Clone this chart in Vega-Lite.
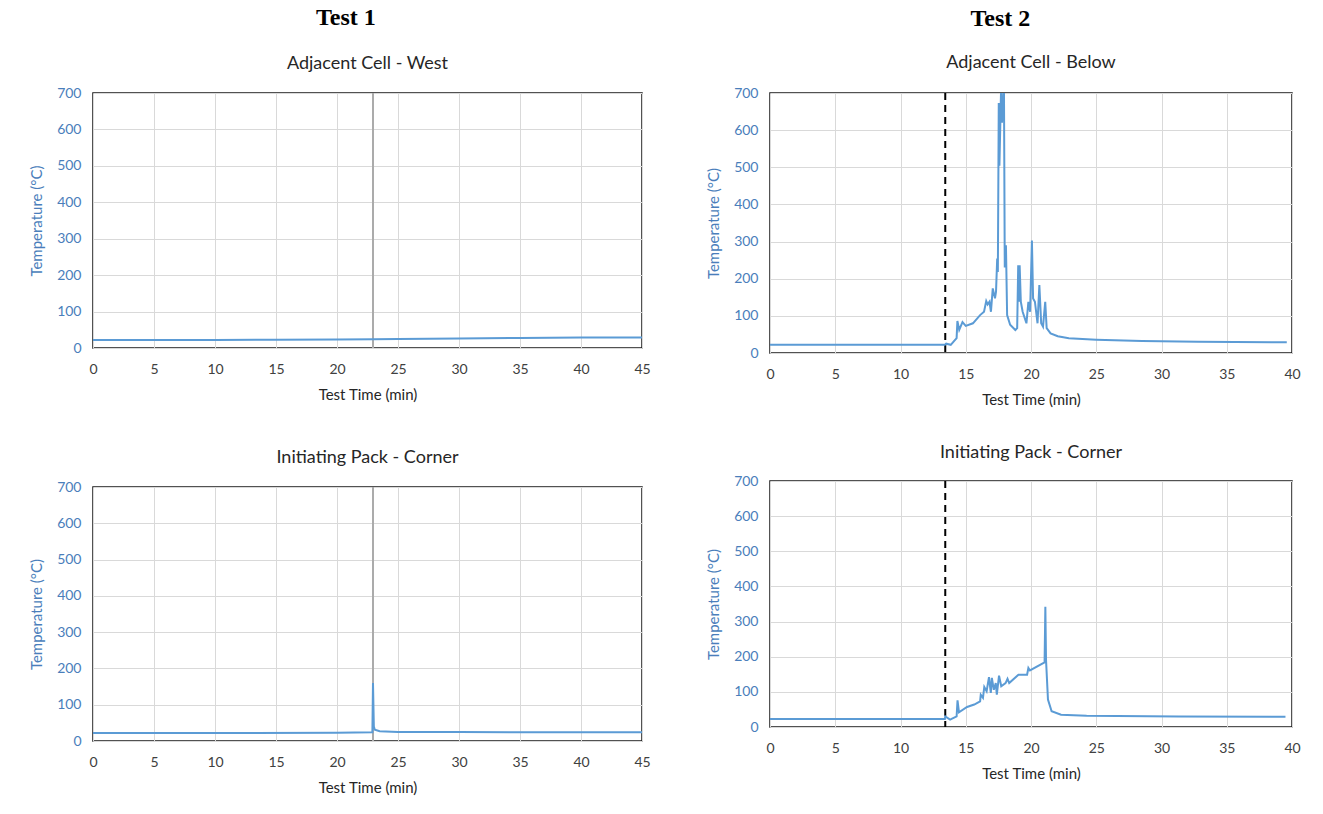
{
  "$schema": "https://vega.github.io/schema/vega-lite/v6.json",
  "background": "white",
  "padding": {"left": 28, "top": 6, "right": 20, "bottom": 10},
  "datasets": {
    "west": [
      {"t": 0, "temp": 22}, {"t": 5, "temp": 22}, {"t": 10, "temp": 22}, {"t": 15, "temp": 22.5},
      {"t": 20, "temp": 23}, {"t": 23, "temp": 24}, {"t": 25, "temp": 24.5}, {"t": 30, "temp": 26},
      {"t": 35, "temp": 27.5}, {"t": 40, "temp": 28.5}, {"t": 45, "temp": 29}
    ],
    "corner1": [
      {"t": 0, "temp": 22}, {"t": 10, "temp": 22}, {"t": 20, "temp": 23}, {"t": 22.9, "temp": 24},
      {"t": 22.95, "temp": 160}, {"t": 23.02, "temp": 40}, {"t": 23.1, "temp": 31}, {"t": 23.5, "temp": 27},
      {"t": 25, "temp": 25}, {"t": 30, "temp": 24.5}, {"t": 35, "temp": 24}, {"t": 40, "temp": 24}, {"t": 45, "temp": 24}
    ],
    "below": [
      {"t": 0, "temp": 22}, {"t": 5, "temp": 22}, {"t": 10, "temp": 22}, {"t": 13.4, "temp": 22},
      {"t": 13.5, "temp": 25}, {"t": 13.85, "temp": 22}, {"t": 14.3, "temp": 40}, {"t": 14.36, "temp": 86},
      {"t": 14.5, "temp": 62}, {"t": 14.75, "temp": 83}, {"t": 15.0, "temp": 73}, {"t": 15.55, "temp": 80},
      {"t": 16.1, "temp": 102}, {"t": 16.4, "temp": 111}, {"t": 16.57, "temp": 140}, {"t": 16.68, "temp": 131},
      {"t": 16.82, "temp": 138}, {"t": 16.93, "temp": 111}, {"t": 17.07, "temp": 174}, {"t": 17.24, "temp": 147},
      {"t": 17.32, "temp": 165}, {"t": 17.41, "temp": 254}, {"t": 17.46, "temp": 218}, {"t": 17.53, "temp": 673},
      {"t": 17.58, "temp": 504}, {"t": 17.7, "temp": 700}, {"t": 17.78, "temp": 620}, {"t": 17.87, "temp": 700},
      {"t": 17.93, "temp": 700}, {"t": 17.99, "temp": 230}, {"t": 18.08, "temp": 290}, {"t": 18.17, "temp": 102},
      {"t": 18.4, "temp": 76}, {"t": 18.8, "temp": 62}, {"t": 18.94, "temp": 67}, {"t": 19.02, "temp": 236},
      {"t": 19.08, "temp": 138}, {"t": 19.13, "temp": 236}, {"t": 19.22, "temp": 138}, {"t": 19.36, "temp": 111},
      {"t": 19.65, "temp": 80}, {"t": 19.8, "temp": 138}, {"t": 19.93, "temp": 111}, {"t": 20.02, "temp": 232},
      {"t": 20.07, "temp": 303}, {"t": 20.16, "temp": 147}, {"t": 20.3, "temp": 138}, {"t": 20.5, "temp": 80},
      {"t": 20.64, "temp": 183}, {"t": 20.78, "temp": 80}, {"t": 20.92, "temp": 71}, {"t": 21.09, "temp": 138},
      {"t": 21.2, "temp": 67}, {"t": 21.5, "temp": 53}, {"t": 22.05, "temp": 45}, {"t": 22.9, "temp": 40},
      {"t": 25.0, "temp": 36}, {"t": 28.5, "temp": 32}, {"t": 32.8, "temp": 30}, {"t": 39.6, "temp": 29}
    ],
    "corner2": [
      {"t": 0, "temp": 23}, {"t": 5, "temp": 23}, {"t": 10, "temp": 23}, {"t": 13.4, "temp": 23},
      {"t": 13.43, "temp": 30}, {"t": 13.8, "temp": 21}, {"t": 14.3, "temp": 30}, {"t": 14.37, "temp": 76},
      {"t": 14.48, "temp": 42}, {"t": 15.1, "temp": 57}, {"t": 15.65, "temp": 64}, {"t": 16.1, "temp": 73},
      {"t": 16.15, "temp": 92}, {"t": 16.32, "temp": 83}, {"t": 16.42, "temp": 114}, {"t": 16.6, "temp": 102},
      {"t": 16.78, "temp": 142}, {"t": 16.92, "temp": 97}, {"t": 17.0, "temp": 140}, {"t": 17.15, "temp": 106},
      {"t": 17.3, "temp": 125}, {"t": 17.38, "temp": 92}, {"t": 17.55, "temp": 146}, {"t": 17.72, "temp": 116},
      {"t": 18.05, "temp": 125}, {"t": 18.2, "temp": 137}, {"t": 18.33, "temp": 125}, {"t": 19.04, "temp": 149},
      {"t": 19.7, "temp": 149}, {"t": 19.8, "temp": 168}, {"t": 19.92, "temp": 161}, {"t": 21.04, "temp": 184},
      {"t": 21.1, "temp": 342}, {"t": 21.15, "temp": 192}, {"t": 21.3, "temp": 78}, {"t": 21.58, "temp": 45},
      {"t": 22.3, "temp": 35}, {"t": 24.26, "temp": 32}, {"t": 31.3, "temp": 30}, {"t": 39.5, "temp": 29}
    ],
    "event1": [{"t": 22.95}],
    "event2": [{"t": 13.43}]
  },
  "hconcat": [
    {
      "title": {"text": "Test 1", "font": "Liberation Serif", "fontSize": 24, "fontWeight": "bold", "color": "#000000", "anchor": "middle", "offset": 24, "dx": 6},
      "spacing": 45,
      "vconcat": [
        {
          "width": 549, "height": 255,
          "title": {"text": "Adjacent Cell - West", "offset": 13},
          "layer": [
            {"data": {"name": "event1"}, "mark": {"type": "rule", "color": "#ababab", "strokeWidth": 2}, "encoding": {"x": {"field": "t", "type": "quantitative"}}},
            {"data": {"name": "west"}, "mark": {"type": "line", "color": "#5b9bd5", "strokeWidth": 2},
             "encoding": {
               "x": {"field": "t", "type": "quantitative", "scale": {"domain": [0, 45]}, "axis": {"values": [0,5,10,15,20,25,30,35,40,45], "title": "Test Time (min)"}},
               "y": {"field": "temp", "type": "quantitative", "scale": {"domain": [0, 700]}, "axis": {"values": [0,100,200,300,400,500,600,700], "title": "Temperature (°C)"}}}}
          ]
        },
        {
          "width": 549, "height": 254,
          "title": {"text": "Initiating Pack - Corner", "offset": 13},
          "layer": [
            {"data": {"name": "event1"}, "mark": {"type": "rule", "color": "#ababab", "strokeWidth": 2}, "encoding": {"x": {"field": "t", "type": "quantitative"}}},
            {"data": {"name": "corner1"}, "mark": {"type": "line", "color": "#5b9bd5", "strokeWidth": 2},
             "encoding": {
               "x": {"field": "t", "type": "quantitative", "scale": {"domain": [0, 45]}, "axis": {"values": [0,5,10,15,20,25,30,35,40,45], "title": "Test Time (min)"}},
               "y": {"field": "temp", "type": "quantitative", "scale": {"domain": [0, 700]}, "axis": {"values": [0,100,200,300,400,500,600,700], "title": "Temperature (°C)"}}}}
          ]
        }
      ]
    },
    {
      "title": {"text": "Test 2", "font": "Liberation Serif", "fontSize": 24, "fontWeight": "bold", "color": "#000000", "anchor": "middle", "offset": 22, "dx": -3},
      "spacing": 35,
      "vconcat": [
        {
          "width": 522, "height": 260,
          "title": {"text": "Adjacent Cell - Below", "offset": 14},
          "layer": [
            {"data": {"name": "event2"}, "mark": {"type": "rule", "color": "#000000", "strokeWidth": 2, "strokeDash": [7, 5]}, "encoding": {"x": {"field": "t", "type": "quantitative"}}},
            {"data": {"name": "below"}, "mark": {"type": "line", "color": "#5b9bd5", "strokeWidth": 2, "clip": true},
             "encoding": {
               "x": {"field": "t", "type": "quantitative", "scale": {"domain": [0, 40]}, "axis": {"values": [0,5,10,15,20,25,30,35,40], "title": "Test Time (min)"}},
               "y": {"field": "temp", "type": "quantitative", "scale": {"domain": [0, 700]}, "axis": {"values": [0,100,200,300,400,500,600,700], "title": "Temperature (°C)"}}}}
          ]
        },
        {
          "width": 522, "height": 246,
          "title": {"text": "Initiating Pack - Corner", "offset": 12},
          "layer": [
            {"data": {"name": "event2"}, "mark": {"type": "rule", "color": "#000000", "strokeWidth": 2, "strokeDash": [7, 5]}, "encoding": {"x": {"field": "t", "type": "quantitative"}}},
            {"data": {"name": "corner2"}, "mark": {"type": "line", "color": "#5b9bd5", "strokeWidth": 2},
             "encoding": {
               "x": {"field": "t", "type": "quantitative", "scale": {"domain": [0, 40]}, "axis": {"values": [0,5,10,15,20,25,30,35,40], "title": "Test Time (min)"}},
               "y": {"field": "temp", "type": "quantitative", "scale": {"domain": [0, 700]}, "axis": {"values": [0,100,200,300,400,500,600,700], "title": "Temperature (°C)"}}}}
          ]
        }
      ]
    }
  ],
  "spacing": 54,
  "config": {
    "view": {"stroke": "#1a1a1a", "strokeWidth": 1.5},
    "axis": {"grid": true, "gridColor": "#d9d9d9", "gridWidth": 1, "domain": false, "ticks": false, "tickSize": 0, "labelFlush": false,
             "labelFont": "Lato", "labelFontSize": 14, "titleFont": "Lato", "titleFontSize": 15, "titleFontWeight": "normal"},
    "axisY": {"labelColor": "#4a7ebb", "titleColor": "#4a7ebb", "labelPadding": 12, "titlePadding": 12},
    "axisX": {"labelColor": "#404040", "titleColor": "#262626", "labelPadding": 14, "titlePadding": 11},
    "title": {"font": "Lato", "fontSize": 18, "fontWeight": "normal", "color": "#262626"}
  }
}
